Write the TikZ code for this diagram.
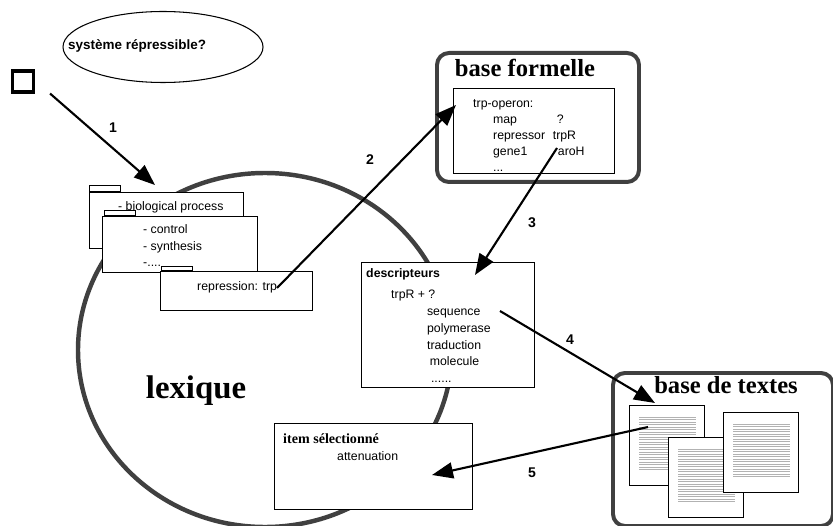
\documentclass[tikz,border=0pt]{standalone}
\usepackage{fontspec}
\setmainfont{Liberation Sans}
\newfontfamily\titlefont{Liberation Serif}
\usetikzlibrary{positioning}
\usetikzlibrary{calc}
\usetikzlibrary{shapes.geometric}
\usetikzlibrary{arrows.meta}
\tikzset{
    % Big filled heads, as drawn in the sketch
    >={Triangle[length=6.3mm,width=4.8mm]},
%
    % A plain white box with a thin outline
    plain box/.style={draw, rectangle, fill=white, line width=0.8pt,
        inner sep=0, anchor=north west},
    % The heavy grey frame round a store
    store frame/.style={draw=black!75, rectangle, rounded corners=3.6mm,
        line width=3.4pt, inner sep=0, anchor=north west},
    % The little tab on top of a folder card
    folder tab/.style={draw, rectangle, fill=white, line width=0.8pt,
        inner sep=0, anchor=south west, minimum width=9.3mm},
    % One sheet of text and its grey lines
    sheet/.style={plain box, minimum width=22.5mm, minimum height=24mm},
    sheet line/.style={black!30, line width=0.25pt,
        dash pattern=on 0.5pt off 0.3pt},
%
    % Texts
    small text/.style={font=\fontsize{10.5}{14.4}\selectfont,
        inner sep=0, anchor=mid west},
    small list/.style={small text, align=left, anchor=north west},
    big title/.style={font=\titlefont\bfseries\fontsize{21}{24}\selectfont,
        inner sep=0, anchor=base},
%
    % Numbered flow arrows
    flow/.style={->, line width=1.8pt},
    flow number/.style={font=\fontsize{12}{14}\selectfont\bfseries, inner sep=0}}

\begin{document}
\begin{tikzpicture}[x=0.3mm, y=-0.3mm]
\useasboundingbox (0,0) rectangle (833,526);

% The lexicon, a big grey ring behind everything
\node[draw=black!75, ellipse, line width=3.8pt, inner sep=0,
    minimum width=112.2mm, minimum height=106.2mm] (lexique ring) at (265,350) {};
\node[big title, font=\titlefont\bfseries\fontsize{28}{32}\selectfont]
    (lexique) at (196,398) {lexique};

% The question and the starting box
\node[draw, ellipse, line width=0.9pt, inner sep=0,
    minimum width=60mm, minimum height=21.3mm] (question) at (163,47) {};
\node[small text, font=\fontsize{11.5}{14}\selectfont\bfseries]
    (question text) at (68,46) {système répressible?};
\node[draw, rectangle, line width=2.6pt, inner sep=0, minimum size=6.3mm]
    (start box) at (23,81.5) {};

% Stack of folder cards
\node[plain box, minimum width=46.2mm, minimum height=16.8mm] (process card) at (89,192) {};
\node[folder tab, minimum height=1.8mm] at (process card.north west) {};
\node[small text] (process text) at (118,207) {- biological process};

\node[plain box, minimum width=46.5mm, minimum height=16.8mm] (control card) at (102,216) {};
\node[folder tab, minimum height=1.5mm] at ($(control card.north west)+(2,0)$) {};
\node[small list] (control text) at (143,224) {- control\\- synthesis\\-....};

\node[plain box, minimum width=45.6mm, minimum height=11.7mm] (repression card) at (160,271) {};
\node[folder tab, minimum height=1.2mm] at ($(repression card.north west)+(1,0)$) {};
\node[small text] (repression text) at (197,287) {repression: trp};

% Formal base
\node[store frame, minimum width=60.6mm, minimum height=38.7mm] (formal frame) at (435,51) {};
\node[big title] (formal title) at (525,77) {base formelle};
\node[plain box, minimum width=48.3mm, minimum height=25.5mm] (operon box) at (453,88) {};
\node[small list, font=\fontsize{10.5}{13.8}\selectfont] (operon text) at (473,99)
    {trp-operon:\\
     \hspace*{17pt}\makebox[51pt][l]{map}\hspace{3.4pt}?\\
     \hspace*{17pt}\makebox[51pt][l]{repressor}trpR\\
     \hspace*{17pt}\makebox[51pt][l]{gene1}\hspace{4.3pt}aroH\\
     \hspace*{17pt}...};

% Descriptors
\node[plain box, minimum width=51.9mm, minimum height=37.5mm] (descr box) at (361,262) {};
\node[small text, font=\fontsize{10.5}{14}\selectfont\bfseries] (descr title) at (366,274) {descripteurs};
\node[small list, font=\fontsize{10.5}{14.3}\selectfont] (descr text) at (391,290)
    {trpR + ?\\
     \hspace*{30.6pt}sequence\\
     \hspace*{30.6pt}polymerase\\
     \hspace*{30.6pt}traduction\\
     \hspace*{33pt}molecule\\
     \hspace*{34pt}......};

% Selected item
\node[plain box, minimum width=59.4mm, minimum height=25.8mm] (item box) at (274,423) {};
\node[big title, anchor=base west, font=\titlefont\bfseries\fontsize{12}{14}\selectfont]
    (item title) at (283,443) {item sélectionné};
\node[small text] (item text) at (337,457) {attenuation};

% Text base with its sheets
\node[store frame, minimum width=66mm, minimum height=45.9mm] (text frame) at (611,371) {};
\node[big title] (text title) at (726,393) {base de textes};
\foreach \sheetname/\sx/\sy in {sheet a/629/405, sheet b/668/437, sheet c/723/412} {
    \node[sheet] (\sheetname) at (\sx,\sy) {};
    \foreach \k in {0,...,21}
        \draw[sheet line] ($(\sheetname.north west)+(10,12+2.5*\k)$) -- ++(57,0);
}

% Ends of the flow arrows
\coordinate (pick) at ($(start box.south east)+(15,0)$);
\coordinate (card top) at ($(process card.north west)+(66,-7)$);
\coordinate (trp word) at ($(repression card.north west)+(117,17)$);
\coordinate (operon in) at ($(operon box.north west)+(3,17)$);
\coordinate (operon out) at ($(operon box.north west)+(104,60)$);
\coordinate (descr in) at ($(descr box.north west)+(114,13)$);
\coordinate (descr out) at ($(descr box.north west)+(139,49)$);
\coordinate (sheet in) at ($(sheet a.north west)+(26,-2)$);
\coordinate (sheet out) at ($(sheet a.north west)+(19,22)$);
\coordinate (item in) at ($(item box.north west)+(158,52)$);

\draw[flow] (pick) -- (card top);
\draw[flow] (trp word) -- (operon in);
\draw[flow] (operon out) -- (descr in);
\draw[flow] (descr out) -- (sheet in);
\draw[flow] (sheet out) -- (item in);

\node[flow number] (num 1) at (113,128) {1};
\node[flow number] (num 2) at (370,160) {2};
\node[flow number] (num 3) at (532,223) {3};
\node[flow number] (num 4) at (570,340) {4};
\node[flow number] (num 5) at (532,473) {5};

\end{tikzpicture}
\end{document}
